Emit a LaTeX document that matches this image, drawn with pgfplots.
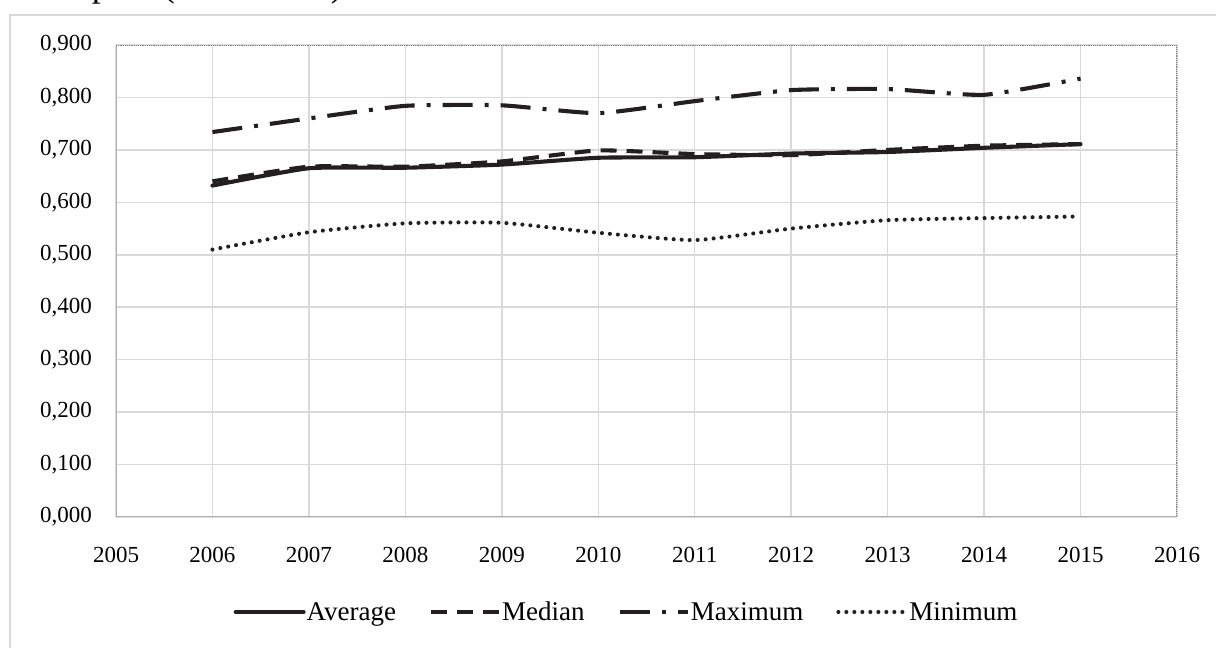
\documentclass[border=0pt]{standalone}
\usepackage{pgfplots}
\pgfplotsset{compat=1.18}
\usepackage{fontspec}
\setmainfont{Liberation Serif}
\definecolor{gridgray}{HTML}{D9D9D9}
\definecolor{lightborder}{HTML}{B0B0B0}
\definecolor{darkborder}{HTML}{7F7F7F}
\definecolor{linecol}{HTML}{231F20}
\begin{document}
\begin{tikzpicture}[x=1pt,y=1pt]
\useasboundingbox (0,0) rectangle (1216,648);
\clip (0,0) rectangle (1216,648);
\draw[gridgray, line width=1.5pt] (10,-20) rectangle (1240,633);
\node[anchor=base east, inner sep=0pt, font=\fontsize{36}{40}\selectfont] at (352,651) {and Spain (2006-2015).};
\begin{axis}[
  at={(116pt,131pt)}, anchor=south west,
  scale only axis, width=1061pt, height=472pt,
  xmin=2005, xmax=2016, ymin=0, ymax=0.9,
  xtick={2005,2006,2007,2008,2009,2010,2011,2012,2013,2014,2015,2016},
  xticklabels={2005,2006,2007,2008,2009,2010,2011,2012,2013,2014,2015,2016},
  ytick={0,0.1,0.2,0.3,0.4,0.5,0.6,0.7,0.8,0.9},
  yticklabels={{0,000},{0,100},{0,200},{0,300},{0,400},{0,500},{0,600},{0,700},{0,800},{0,900}},
  major tick length=0pt,
  tick style={draw=none},
  grid=major,
  major grid style={gridgray, line width=1.5pt},
  axis line style={draw=none},
  yticklabel style={anchor=east, inner sep=0pt, xshift=-24pt, font=\fontsize{23}{27}\selectfont},
  xticklabel style={anchor=north, inner sep=0pt, yshift=-30pt, font=\fontsize{23}{27}\selectfont},
  legend columns=4,
  legend style={at={(0.4807,-0.2013)}, anchor=center, draw=none, fill=none,
    font=\fontsize{27}{30}\selectfont,
    nodes={inner sep=1pt},
    /tikz/every even column/.append style={column sep=32pt}},
  legend image code/.code={\draw[#1] (0pt,0pt) -- (68pt,0pt);},
  every axis plot/.append style={linecol, line width=4.1pt, smooth, tension=0.3},
]
\draw[lightborder, line width=1.5pt] (rel axis cs:0,1) -- (rel axis cs:0,0) -- (rel axis cs:1,0);
\draw[darkborder, line width=1.5pt, dash pattern=on 1.2pt off 1pt] (rel axis cs:0,1) -- (rel axis cs:1,1) -- (rel axis cs:1,0);
\addplot[line cap=round] coordinates {(2006,0.632) (2007,0.665) (2008,0.666) (2009,0.672) (2010,0.685) (2011,0.686) (2012,0.693) (2013,0.696) (2014,0.704) (2015,0.711)};
\addlegendentry{Average}
\addplot[dash pattern=on 16pt off 10pt] coordinates {(2006,0.640) (2007,0.668) (2008,0.668) (2009,0.678) (2010,0.699) (2011,0.692) (2012,0.690) (2013,0.700) (2014,0.708) (2015,0.711)};
\addlegendentry{Median}
\addplot[dash pattern=on 30pt off 12pt on 4pt off 12pt] coordinates {(2006,0.734) (2007,0.760) (2008,0.784) (2009,0.785) (2010,0.770) (2011,0.793) (2012,0.814) (2013,0.816) (2014,0.805) (2015,0.836)};
\addlegendentry{Maximum}
\addplot[line cap=round, dash pattern=on 0pt off 8pt] coordinates {(2006,0.510) (2007,0.543) (2008,0.560) (2009,0.561) (2010,0.542) (2011,0.528) (2012,0.550) (2013,0.566) (2014,0.570) (2015,0.573)};
\addlegendentry{Minimum}
\end{axis}
\end{tikzpicture}
\end{document}
